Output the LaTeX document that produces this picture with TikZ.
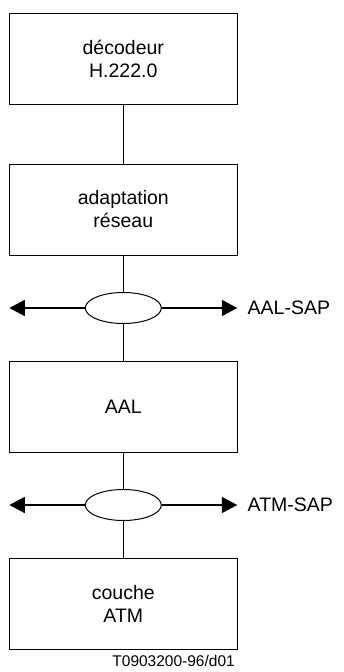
\documentclass[tikz,border=0pt]{standalone}
\usepackage{fontspec}
\setmainfont{Liberation Sans}
\usetikzlibrary{shapes.geometric,arrows.meta}

\begin{document}
\begin{tikzpicture}[x=1pt,y=-1pt,
  layer/.style={draw, line width=1pt, minimum width=227.5pt, minimum height=91pt,
    align=center, inner sep=0pt, font=\fontsize{19.5}{23}\selectfont},
  sap/.style={draw, ellipse, line width=1pt, minimum width=76pt, minimum height=31pt, inner sep=0pt},
  link/.style={line width=1.6pt},
  tip/.style={line width=1.6pt, -{Triangle[length=15.5pt,width=16pt]}},
  lbl/.style={anchor=west, inner sep=0pt, font=\fontsize{19.5}{23}\selectfont}]
\useasboundingbox (0,0) rectangle (343,672);

% protocol layers
\node[layer] (dec) at (123.3,58.5)  {décodeur\\H.222.0};
\node[layer] (adp) at (123.3,209.5) {adaptation\\réseau};
\node[layer] (aal) at (123.3,406.5) {AAL};
\node[layer] (atm) at (123.3,604)   {couche\\ATM};

% service access points
\node[sap] (sap1) at (123.3,308) {};
\node[sap] (sap2) at (123.3,505) {};

% vertical links between layers
\draw[link] (dec.south) -- (adp.north);
\draw[link] (adp.south) -- (sap1.north);
\draw[link] (sap1.south) -- (aal.north);
\draw[link] (aal.south) -- (sap2.north);
\draw[link] (sap2.south) -- (atm.north);

% horizontal SAP arrows
\coordinate (l1) at (9.3,308);
\coordinate (r1) at (237.3,308);
\coordinate (l2) at (9.3,505);
\coordinate (r2) at (237.3,505);
\draw[tip] (sap1.west) -- (l1);
\draw[tip] (sap1.east) -- (r1);
\draw[tip] (sap2.west) -- (l2);
\draw[tip] (sap2.east) -- (r2);

\node[lbl] (lab1) at (247.5,308) {AAL-SAP};
\node[lbl] (lab2) at (247.5,505) {ATM-SAP};

\node[anchor=east, inner sep=0pt, font=\fontsize{15.5}{17}\selectfont] (ref) at (235,661) {T0903200-96/d01};
\end{tikzpicture}
\end{document}
